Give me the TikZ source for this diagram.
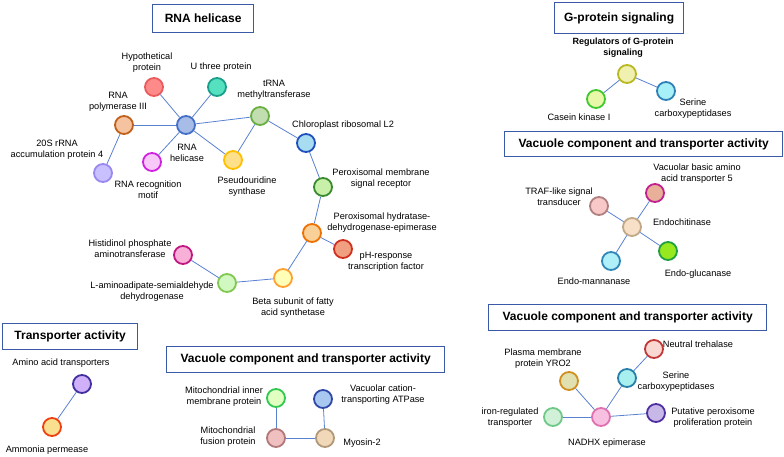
\documentclass[tikz,border=0pt]{standalone}
\usepackage{fontspec}
\setmainfont{Liberation Sans}
\begin{document}
\begin{tikzpicture}[x=1pt,y=-1pt,
  nd/.style 2 args={circle,minimum size=18pt,inner sep=0pt,line width=1.8pt,
     /utils/exec={\definecolor{ndfill}{HTML}{#1}\definecolor{nddraw}{HTML}{#2}},
     fill=ndfill,draw=nddraw},
  lbl/.style={font=\fontsize{9.2}{11}\selectfont,align=center,inner sep=0pt},
  blbl/.style={font=\bfseries\fontsize{9}{11}\selectfont,align=center,inner sep=0pt},
  ttl/.style={draw=boxblue,line width=1.3pt,font=\bfseries\fontsize{12}{14}\selectfont,inner sep=0pt,anchor=north west},
  edge/.style={draw=edgeblue,line width=0.8pt}]
\definecolor{boxblue}{HTML}{3A5AA8}
\definecolor{edgeblue}{HTML}{5A82D2}
\useasboundingbox[fill=white] (0,0) rectangle (784,456);

% ---------- Titles ----------
\node[ttl,minimum width=101pt,minimum height=28pt] (t1) at (152,4) {RNA helicase};
\node[ttl,minimum width=129pt,minimum height=31pt] (t2) at (554,2) {G-protein signaling};
\node[ttl,minimum width=278pt,minimum height=25pt] (t3) at (504,131) {Vacuole component and transporter activity};
\node[ttl,minimum width=278pt,minimum height=26pt] (t4) at (488,304) {Vacuole component and transporter activity};
\node[ttl,minimum width=135pt,minimum height=26pt] (t5) at (2,323) {Transporter activity};
\node[ttl,minimum width=278pt,minimum height=26pt] (t6) at (166,346) {Vacuole component and transporter activity};

% ---------- RNA helicase group ----------
\node[nd={FF8A8A}{E85C5C}] (hyp) at (154,87) {};
\node[nd={55E0C0}{1AA08A}] (uth) at (217,87) {};
\node[nd={A8BCE8}{4470C8}] (hel) at (186,125) {};
\node[nd={F5C3A0}{C0601A}] (pol) at (124,125) {};
\node[nd={C2DDB0}{6AB040}] (trn) at (260,116) {};
\node[nd={A8DCF0}{2050C0}] (chl) at (306,143) {};
\node[nd={C8C0FF}{9A88F0}] (s20) at (103,173) {};
\node[nd={F8C8F8}{D020E0}] (rrm) at (152,162) {};
\node[nd={FFE08A}{FFC000}] (psu) at (233,160) {};
\node[nd={C8F0A8}{3A8A30}] (pmr) at (323,187) {};
\node[nd={F8D098}{F07000}] (phd) at (312,233) {};
\node[nd={F0A080}{D03020}] (phr) at (343,249) {};
\node[nd={F8B0D8}{C01880}] (his) at (183,255) {};
\node[nd={D0F8C0}{80C850}] (lam) at (227,283) {};
\node[nd={FFFFB8}{FFA030}] (bet) at (283,278) {};

\node[lbl] (hypl) at (147,63) {Hypothetical\\protein};
\node[lbl] (uthl) at (221,67) {U three protein};
\node[lbl] (trnl) at (274,90) {tRNA\\methyltransferase};
\node[lbl] (poll) at (118,102) {RNA\\polymerase III};
\node[lbl,anchor=west] (chll) at (292,125) {Chloroplast ribosomal L2};
\node[lbl] (s20l) at (57,149.5) {20S rRNA\\accumulation protein 4};
\node[lbl] (hell) at (187,153) {RNA\\helicase};
\node[lbl] (rrml) at (148,190) {RNA recognition\\motif};
\node[lbl] (psul) at (247,187) {Pseudouridine\\synthase};
\node[lbl] (pmrl) at (381,178.5) {Peroxisomal membrane\\signal receptor};
\node[lbl] (phdl) at (382,222.5) {Peroxisomal hydratase-\\dehydrogenase-epimerase};
\node[lbl] (phrl) at (386,262) {pH-response\\transcription factor};
\node[lbl] (hisl) at (130,248.5) {Histidinol phosphate\\aminotransferase};
\node[lbl] (laml) at (152,291.5) {L-aminoadipate-semialdehyde\\dehydrogenase};
\node[lbl] (betl) at (293,308) {Beta subunit of fatty\\acid synthetase};

\draw[edge] (hel) -- (hyp);
\draw[edge] (hel) -- (uth);
\draw[edge] (hel) -- (pol);
\draw[edge] (hel) -- (trn);
\draw[edge] (hel) -- (rrm);
\draw[edge] (hel) -- (psu);
\draw[edge] (pol) -- (s20);
\draw[edge] (trn) -- (psu);
\draw[edge] (trn) -- (chl);
\draw[edge] (chl) -- (pmr);
\draw[edge] (pmr) -- (phd);
\draw[edge] (phd) -- (phr);
\draw[edge] (phd) -- (bet);
\draw[edge] (bet) -- (lam);
\draw[edge] (lam) -- (his);

% ---------- G-protein signaling ----------
\node[nd={F0F0B0}{B8B820}] (rgs) at (627,74) {};
\node[nd={E8F8A8}{40C830}] (cki) at (596,99) {};
\node[nd={A8F0F8}{3080B8}] (scg) at (666,91) {};
\node[blbl] (rgsl) at (623,48) {Regulators of G-protein\\signaling};
\node[lbl] (ckil) at (579,117) {Casein kinase I};
\node[lbl] (scgl) at (693,109) {Serine\\carboxypeptidases};
\draw[edge] (rgs) -- (cki);
\draw[edge] (rgs) -- (scg);

% ---------- Vacuole top-right ----------
\node[nd={F8C8C8}{B08080}] (trf) at (599,206) {};
\node[nd={E8B098}{C02090}] (vba) at (655,193) {};
\node[nd={F8E0C8}{C0A888}] (ech) at (632,227) {};
\node[nd={B0F0F8}{3088B8}] (emn) at (611,261) {};
\node[nd={98E820}{20A040}] (egl) at (668,251) {};
\node[lbl] (trfl) at (559,197) {TRAF-like signal\\transducer};
\node[lbl] (vbal) at (697,173.5) {Vacuolar basic amino\\acid transporter 5};
\node[lbl] (echl) at (682,222) {Endochitinase};
\node[lbl] (emnl) at (594,281) {Endo-mannanase};
\node[lbl] (egll) at (698,274) {Endo-glucanase};
\draw[edge] (ech) -- (trf);
\draw[edge] (ech) -- (vba);
\draw[edge] (ech) -- (emn);
\draw[edge] (ech) -- (egl);

% ---------- Vacuole bottom-right ----------
\node[nd={F8D8D0}{C03838}] (ntr) at (654,349) {};
\node[nd={E0E0B0}{D09020}] (yro) at (569,381) {};
\node[nd={A8F0F0}{2880A8}] (scb) at (627,378) {};
\node[nd={D0F0D8}{70C888}] (irt) at (553,417) {};
\node[nd={F8C0E0}{E070B0}] (nad) at (601,417) {};
\node[nd={C8B8E8}{5030A0}] (ppp) at (656,413) {};
\node[lbl] (ntrl) at (698,344) {Neutral trehalase};
\node[lbl] (yrol) at (543,358.5) {Plasma membrane\\protein YRO2};
\node[lbl] (scbl) at (676,382) {Serine\\carboxypeptidases};
\node[lbl] (irtl) at (510,418) {iron-regulated\\transporter};
\node[lbl] (pppl) at (713,418) {Putative peroxisome\\proliferation protein};
\node[lbl] (nadl) at (607,443) {NADHX epimerase};
\draw[edge] (nad) -- (yro);
\draw[edge] (nad) -- (scb);
\draw[edge] (scb) -- (ntr);
\draw[edge] (nad) -- (irt);
\draw[edge] (nad) -- (ppp);

% ---------- Transporter activity ----------
\node[nd={D0B0F8}{4030A0}] (aat) at (82,384) {};
\node[nd={F8E090}{F04010}] (amp) at (52,427) {};
\node[lbl] (aatl) at (61,363) {Amino acid transporters};
\node[lbl] (ampl) at (47,450) {Ammonia permease};
\draw[edge] (aat) -- (amp);

% ---------- Vacuole bottom-left ----------
\node[nd={E0FFC0}{30C850}] (mim) at (276,398) {};
\node[nd={A8C8F0}{3048A8}] (vca) at (323,399) {};
\node[nd={F0C0C0}{B07878}] (mfp) at (276,438) {};
\node[nd={F0D8B8}{B09878}] (myo) at (325,438) {};
\node[lbl] (miml) at (224,397) {Mitochondrial inner\\membrane protein};
\node[lbl] (vcal) at (383,395) {Vacuolar cation-\\transporting ATPase};
\node[lbl] (mfpl) at (228,436.5) {Mitochondrial\\fusion protein};
\node[lbl] (myol) at (362,443) {Myosin-2};
\draw[edge] (mim) -- (mfp);
\draw[edge] (mfp) -- (myo);
\draw[edge] (myo) -- (vca);
\end{tikzpicture}
\end{document}
